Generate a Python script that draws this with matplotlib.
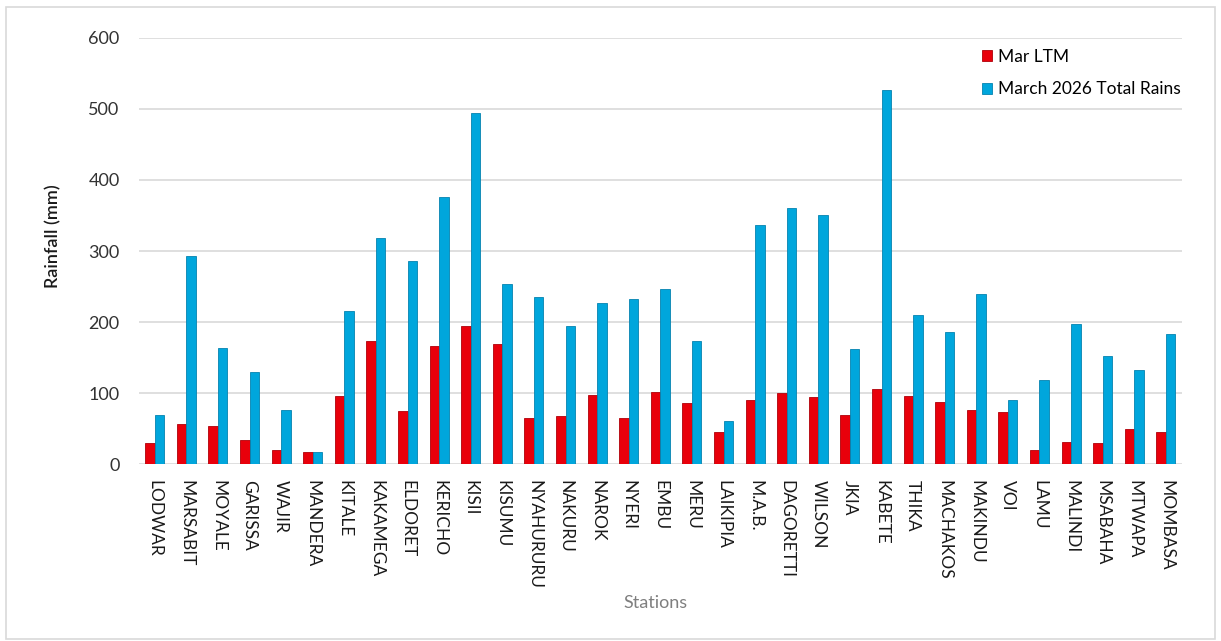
import numpy as np
import matplotlib
matplotlib.use('Agg')
import matplotlib.pyplot as plt
from matplotlib.patches import Rectangle

stations = ['LODWAR', 'MARSABIT', 'MOYALE', 'GARISSA', 'WAJIR', 'MANDERA', 'KITALE',
            'KAKAMEGA', 'ELDORET', 'KERICHO', 'KISII', 'KISUMU', 'NYAHURURU', 'NAKURU',
            'NAROK', 'NYERI', 'EMBU', 'MERU', 'LAIKIPIA', 'M.A.B.', 'DAGORETTI', 'WILSON',
            'JKIA', 'KABETE', 'THIKA', 'MACHAKOS', 'MAKINDU', 'VOI', 'LAMU', 'MALINDI',
            'MSABAHA', 'MTWAPA', 'MOMBASA']

# Mar long term mean (mm)
mar_ltm = [30, 57, 54, 35, 20, 17, 96, 173, 75, 167, 195, 169, 66, 68, 97, 66, 102,
           87, 45, 90, 100, 95, 70, 106, 96, 88, 76, 74, 20, 32, 30, 50, 45]
# March 2026 total rains (mm)
mar_2026 = [70, 293, 163, 130, 77, 17, 216, 318, 286, 376, 494, 254, 236, 194, 227,
            232, 246, 174, 61, 337, 361, 350, 162, 527, 210, 186, 239, 90, 119, 198,
            153, 133, 184]

yticks = [0, 100, 200, 300, 400, 500, 600]

plt.rcParams['font.family'] = ['Lato', 'DejaVu Sans']

fig = plt.figure(figsize=(12.21, 6.41), dpi=100)
fig.patches.append(Rectangle((0.005, 0.003), 0.99, 0.986, transform=fig.transFigure,
                             fill=False, edgecolor='#d9d9d9', linewidth=1.2))
ax = fig.add_axes([0.1138, 0.2754, 0.854, 0.666])

x = np.arange(len(stations))
w = 0.3
ax.bar(x - w / 2, mar_ltm, w, color='#e8000b', edgecolor='#b00008', linewidth=0.6,
       label='Mar LTM', zorder=3)
ax.bar(x + w / 2, mar_2026, w, color='#00a6dc', edgecolor='#0583b0', linewidth=0.6,
       label='March 2026 Total Rains', zorder=3)

ax.set_xlim(-0.5, len(stations) - 0.5)
ax.set_ylim(0, 600)
ax.set_yticks(yticks)
ax.set_yticklabels([str(v) for v in yticks], fontsize=13, color='#333333')
ax.set_xticks(x)
ax.set_xticklabels(stations, rotation=270, fontsize=12.5, color='#1a1a1a',
                   va='top', ha='center')
ax.tick_params(axis='both', length=0)
ax.tick_params(axis='y', pad=14)
ax.tick_params(axis='x', pad=11)
ax.grid(axis='y', color='#d9d9d9', linewidth=1.2, zorder=0)
for s in ax.spines.values():
    s.set_visible(False)

ax.set_ylabel('Rainfall (mm)', fontsize=13, color='#1a1a1a', fontweight='semibold')
ax.yaxis.set_label_coords(-0.0825, 0.534)
ax.yaxis.label.set_va('center')
ax.set_xlabel('Stations', fontsize=13, color='#7f7f7f')
ax.xaxis.set_label_coords(0.4957, -0.324)
ax.xaxis.label.set_va('center')

ax.legend(loc='upper left', bbox_to_anchor=(982 / 1221, 1 - 49 / 641),
          bbox_transform=fig.transFigure, frameon=False, fontsize=12.5,
          borderpad=0, borderaxespad=0, handlelength=0.6, handleheight=0.6,
          handletextpad=0.3, labelspacing=0.95)

fig.savefig('out.png', dpi=100)
